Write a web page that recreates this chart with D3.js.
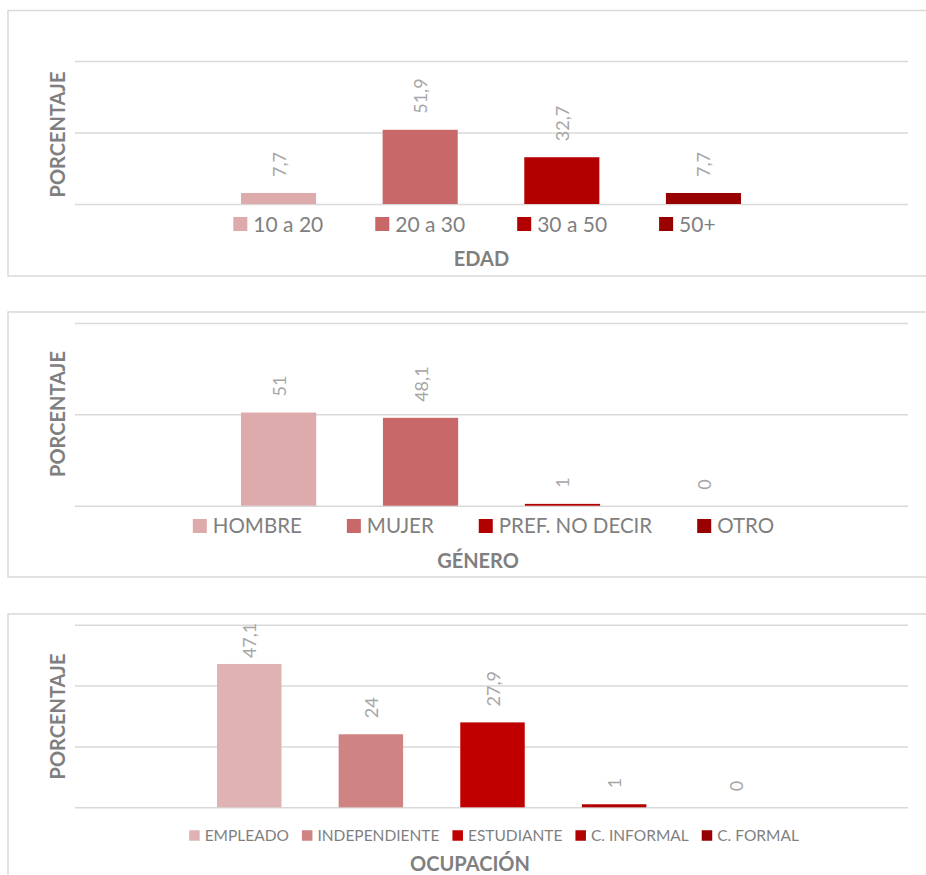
<!DOCTYPE html>
<html>
<head>
<meta charset="utf-8">
<script src="https://cdn.jsdelivr.net/npm/d3@7"></script>
<style>
  body { margin: 0; background: #fff; }
  svg { display: block; font-family: Lato, "Open Sans", sans-serif; }
</style>
</head>
<body>
<div id="chart"></div>
<script>
// --- data ---
var edadCats = ["10 a 20", "20 a 30", "30 a 50", "50+"];
var edadVals = [7.7, 51.9, 32.7, 7.7];
var edadColors = ["#DDABAB", "#C86868", "#B20000", "#990000"];
var edadTicks = [0, 50, 100];

var generoCats = ["HOMBRE", "MUJER", "PREF. NO DECIR", "OTRO"];
var generoVals = [51, 48.1, 1, 0];
var generoColors = ["#DDABAB", "#C86868", "#B20000", "#990000"];
var generoTicks = [0, 50, 100];

var ocupCats = ["EMPLEADO", "INDEPENDIENTE", "ESTUDIANTE", "C. INFORMAL", "C. FORMAL"];
var ocupVals = [47.1, 24, 27.9, 1, 0];
var ocupColors = ["#DFB3B3", "#D08383", "#C00000", "#B00000", "#960000"];
var ocupTicks = [0, 20, 40, 60];

var yTitle = "PORCENTAJE";

var svg = d3.select("#chart").append("svg")
    .attr("width", 926)
    .attr("height", 875);

var panels = [
  { cats: edadCats, vals: edadVals, colors: edadColors, ticks: edadTicks, title: "EDAD",
    boxTop: 10.5, boxBottom: 276, plotTop: 61, plotBottom: 204, barRange: [241, 741],
    legendY: 224, legendCx: 474.5, legendFont: 21, sq: 14, sqGap: 6, itemGap: 52,
    titleX: 481.5, titleY: 266, yTitleY: 134.5 },
  { cats: generoCats, vals: generoVals, colors: generoColors, ticks: generoTicks, title: "GÉNERO",
    boxTop: 312, boxBottom: 577, plotTop: 323, plotBottom: 505.7, barRange: [241, 742],
    legendY: 526, legendCx: 483.5, legendFont: 20.5, sq: 14, sqGap: 6, itemGap: 45,
    titleX: 478, titleY: 568, yTitleY: 414 },
  { cats: ocupCats, vals: ocupVals, colors: ocupColors, ticks: ocupTicks, title: "OCUPACIÓN",
    boxTop: 614, boxBottom: 900, plotTop: 624.7, plotBottom: 807.3, barRange: [217, 768],
    legendY: 835.5, legendCx: 494, legendFont: 15.5, sq: 10.5, sqGap: 5, itemGap: 13,
    titleX: 470, titleY: 871, yTitleY: 716.5 }
];

var plotLeft = 75, plotRight = 908;

panels.forEach(function(p) {
  var g = svg.append("g");

  // chart border
  g.append("rect")
      .attr("x", 8).attr("y", p.boxTop)
      .attr("width", 960).attr("height", p.boxBottom - p.boxTop)
      .attr("fill", "none")
      .attr("stroke", "#D9D9D9")
      .attr("stroke-width", 1.5);

  var y = d3.scaleLinear()
      .domain([0, d3.max(p.ticks)])
      .range([p.plotBottom, p.plotTop]);

  var x = d3.scaleBand()
      .domain(p.cats)
      .range(p.barRange)
      .paddingInner(0.47)
      .paddingOuter(0);

  // gridlines
  var grid = g.append("g")
      .attr("transform", "translate(" + plotLeft + ",0)")
      .call(d3.axisLeft(y).tickValues(p.ticks).tickSize(-(plotRight - plotLeft)).tickFormat(""));
  grid.select(".domain").remove();
  grid.selectAll(".tick line")
      .attr("stroke", "#D9D9D9")
      .attr("stroke-width", 1.5);

  // bars
  g.selectAll(".bar")
      .data(p.vals)
      .enter()
      .append("rect")
      .attr("class", "bar")
      .attr("x", function(d, i) { return x(p.cats[i]); })
      .attr("y", function(d) { return y(d); })
      .attr("width", x.bandwidth())
      .attr("height", function(d) { return y(0) - y(d); })
      .attr("fill", function(d, i) { return p.colors[i]; });

  // data labels (rotated)
  g.selectAll(".lbl")
      .data(p.vals)
      .enter()
      .append("text")
      .attr("class", "lbl")
      .text(function(d) { return String(d).replace(".", ","); })
      .attr("font-size", 18)
      .attr("fill", "#A6A6A6")
      .attr("text-anchor", "start")
      .attr("dominant-baseline", "central")
      .attr("transform", function(d, i) {
        var len = this.getComputedTextLength();
        var cx = x(p.cats[i]) + x.bandwidth() / 2;
        var yy = y(d) - 16;
        if (yy - len < p.plotTop - 2) yy = p.plotTop - 2 + len;
        return "translate(" + cx + "," + yy + ") rotate(-90)";
      });

  // legend
  var leg = g.append("g");
  var items = leg.selectAll(".leg")
      .data(p.cats)
      .enter()
      .append("g")
      .attr("class", "leg");
  items.append("rect")
      .attr("width", p.sq).attr("height", p.sq)
      .attr("y", p.legendY - p.sq / 2)
      .attr("fill", function(d, i) { return p.colors[i]; });
  items.append("text")
      .text(function(d) { return d; })
      .attr("x", p.sq + p.sqGap)
      .attr("y", p.legendY)
      .attr("dy", "0.36em")
      .attr("font-size", p.legendFont)
      .attr("fill", "#7F7F7F");
  var pos = 0;
  var offs = [];
  items.each(function() {
    offs.push(pos);
    pos += p.sq + p.sqGap + d3.select(this).select("text").node().getComputedTextLength() + p.itemGap;
  });
  var total = pos - p.itemGap;
  var start = p.legendCx - total / 2;
  items.attr("transform", function(d, i) { return "translate(" + (start + offs[i]) + ",0)"; });

  // axis titles
  g.append("text")
      .text(p.title)
      .attr("x", p.titleX)
      .attr("y", p.titleY)
      .attr("text-anchor", "middle")
      .attr("font-size", 20)
      .attr("font-weight", "bold")
      .attr("fill", "#7F7F7F");

  g.append("text")
      .text(yTitle)
      .attr("text-anchor", "middle")
      .attr("dominant-baseline", "central")
      .attr("font-size", 20)
      .attr("font-weight", "bold")
      .attr("fill", "#7F7F7F")
      .attr("transform", "translate(56.5," + p.yTitleY + ") rotate(-90)");
});
</script>
</body>
</html>
